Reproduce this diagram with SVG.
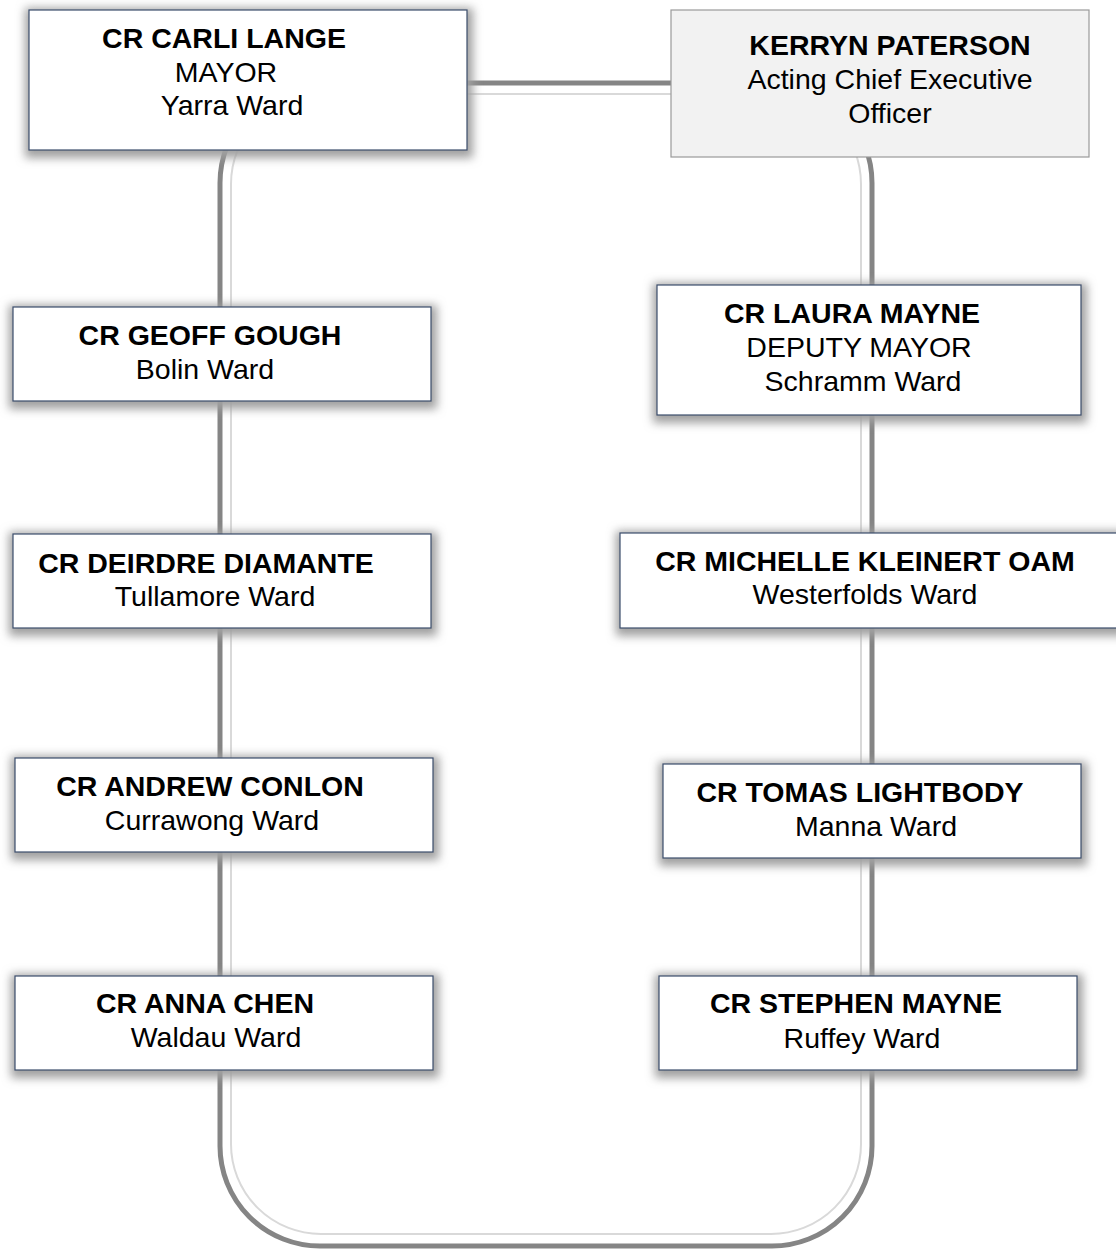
<svg xmlns="http://www.w3.org/2000/svg" width="1116" height="1250" viewBox="0 0 1116 1250">
<defs>
<filter id="blur" x="-20%" y="-50%" width="140%" height="200%">
<feGaussianBlur stdDeviation="5"/>
</filter>
<style>
.box{fill:#fff;stroke:#3b4d6c;stroke-width:1.2}
.shd{fill:#a0a0a0;filter:url(#blur)}
.ceo{fill:#f2f2f2;stroke:#9a9a9a;stroke-width:1.2}
text{font-family:"Liberation Sans",Arial,sans-serif;font-size:28.5px;fill:#000;text-anchor:middle;dominant-baseline:central}
.b{font-weight:bold}
.outer{fill:none;stroke:#858585;stroke-width:5}
.inner{fill:none;stroke:#d9d9d9;stroke-width:2}
</style>
</defs>
<rect width="1116" height="1250" fill="#fff"/>
<g id="connectors">
<rect class="outer" x="220" y="83" width="652" height="1163" rx="100" ry="100"/>
<rect class="inner" x="231" y="94" width="630" height="1140" rx="90" ry="90"/>
</g>
<g id="mayor">
<rect class="shd" x="25" y="8" width="448" height="150"/>
<rect class="box" x="29" y="10" width="438" height="140"/>
<text class="b" x="224" y="38">CR CARLI LANGE</text>
<text x="226" y="72">MAYOR</text>
<text x="232" y="105">Yarra Ward</text>
</g>
<g id="ceo">
<rect class="ceo" x="671" y="10" width="418" height="147"/>
<text class="b" x="890" y="45">KERRYN PATERSON</text>
<text x="890" y="79">Acting Chief Executive</text>
<text x="890" y="113">Officer</text>
</g>
<g id="gough">
<rect class="shd" x="9" y="305" width="428" height="104"/>
<rect class="box" x="13" y="307" width="418" height="94"/>
<text class="b" x="210" y="335">CR GEOFF GOUGH</text>
<text x="205" y="369">Bolin Ward</text>
</g>
<g id="laura">
<rect class="shd" x="653" y="283" width="434" height="140"/>
<rect class="box" x="657" y="285" width="424" height="130"/>
<text class="b" x="852" y="313">CR LAURA MAYNE</text>
<text x="859" y="347">DEPUTY MAYOR</text>
<text x="863" y="381">Schramm Ward</text>
</g>
<g id="deirdre">
<rect class="shd" x="9" y="532" width="428" height="104"/>
<rect class="box" x="13" y="534" width="418" height="94"/>
<text class="b" x="206" y="563">CR DEIRDRE DIAMANTE</text>
<text x="215" y="596">Tullamore Ward</text>
</g>
<g id="michelle">
<rect class="shd" x="616" y="531" width="510" height="105"/>
<rect class="box" x="620" y="533" width="500" height="95"/>
<text class="b" x="865" y="561">CR MICHELLE KLEINERT OAM</text>
<text x="865" y="594">Westerfolds Ward</text>
</g>
<g id="andrew">
<rect class="shd" x="11" y="756" width="428" height="104"/>
<rect class="box" x="15" y="758" width="418" height="94"/>
<text class="b" x="210" y="786">CR ANDREW CONLON</text>
<text x="212" y="820">Currawong Ward</text>
</g>
<g id="tomas">
<rect class="shd" x="659" y="762" width="428" height="104"/>
<rect class="box" x="663" y="764" width="418" height="94"/>
<text class="b" x="860" y="792">CR TOMAS LIGHTBODY</text>
<text x="876" y="826">Manna Ward</text>
</g>
<g id="anna">
<rect class="shd" x="11" y="974" width="428" height="104"/>
<rect class="box" x="15" y="976" width="418" height="94"/>
<text class="b" x="205" y="1003">CR ANNA CHEN</text>
<text x="216" y="1037">Waldau Ward</text>
</g>
<g id="stephen">
<rect class="shd" x="655" y="974" width="428" height="104"/>
<rect class="box" x="659" y="976" width="418" height="94"/>
<text class="b" x="856" y="1003">CR STEPHEN MAYNE</text>
<text x="862" y="1038">Ruffey Ward</text>
</g>
</svg>
